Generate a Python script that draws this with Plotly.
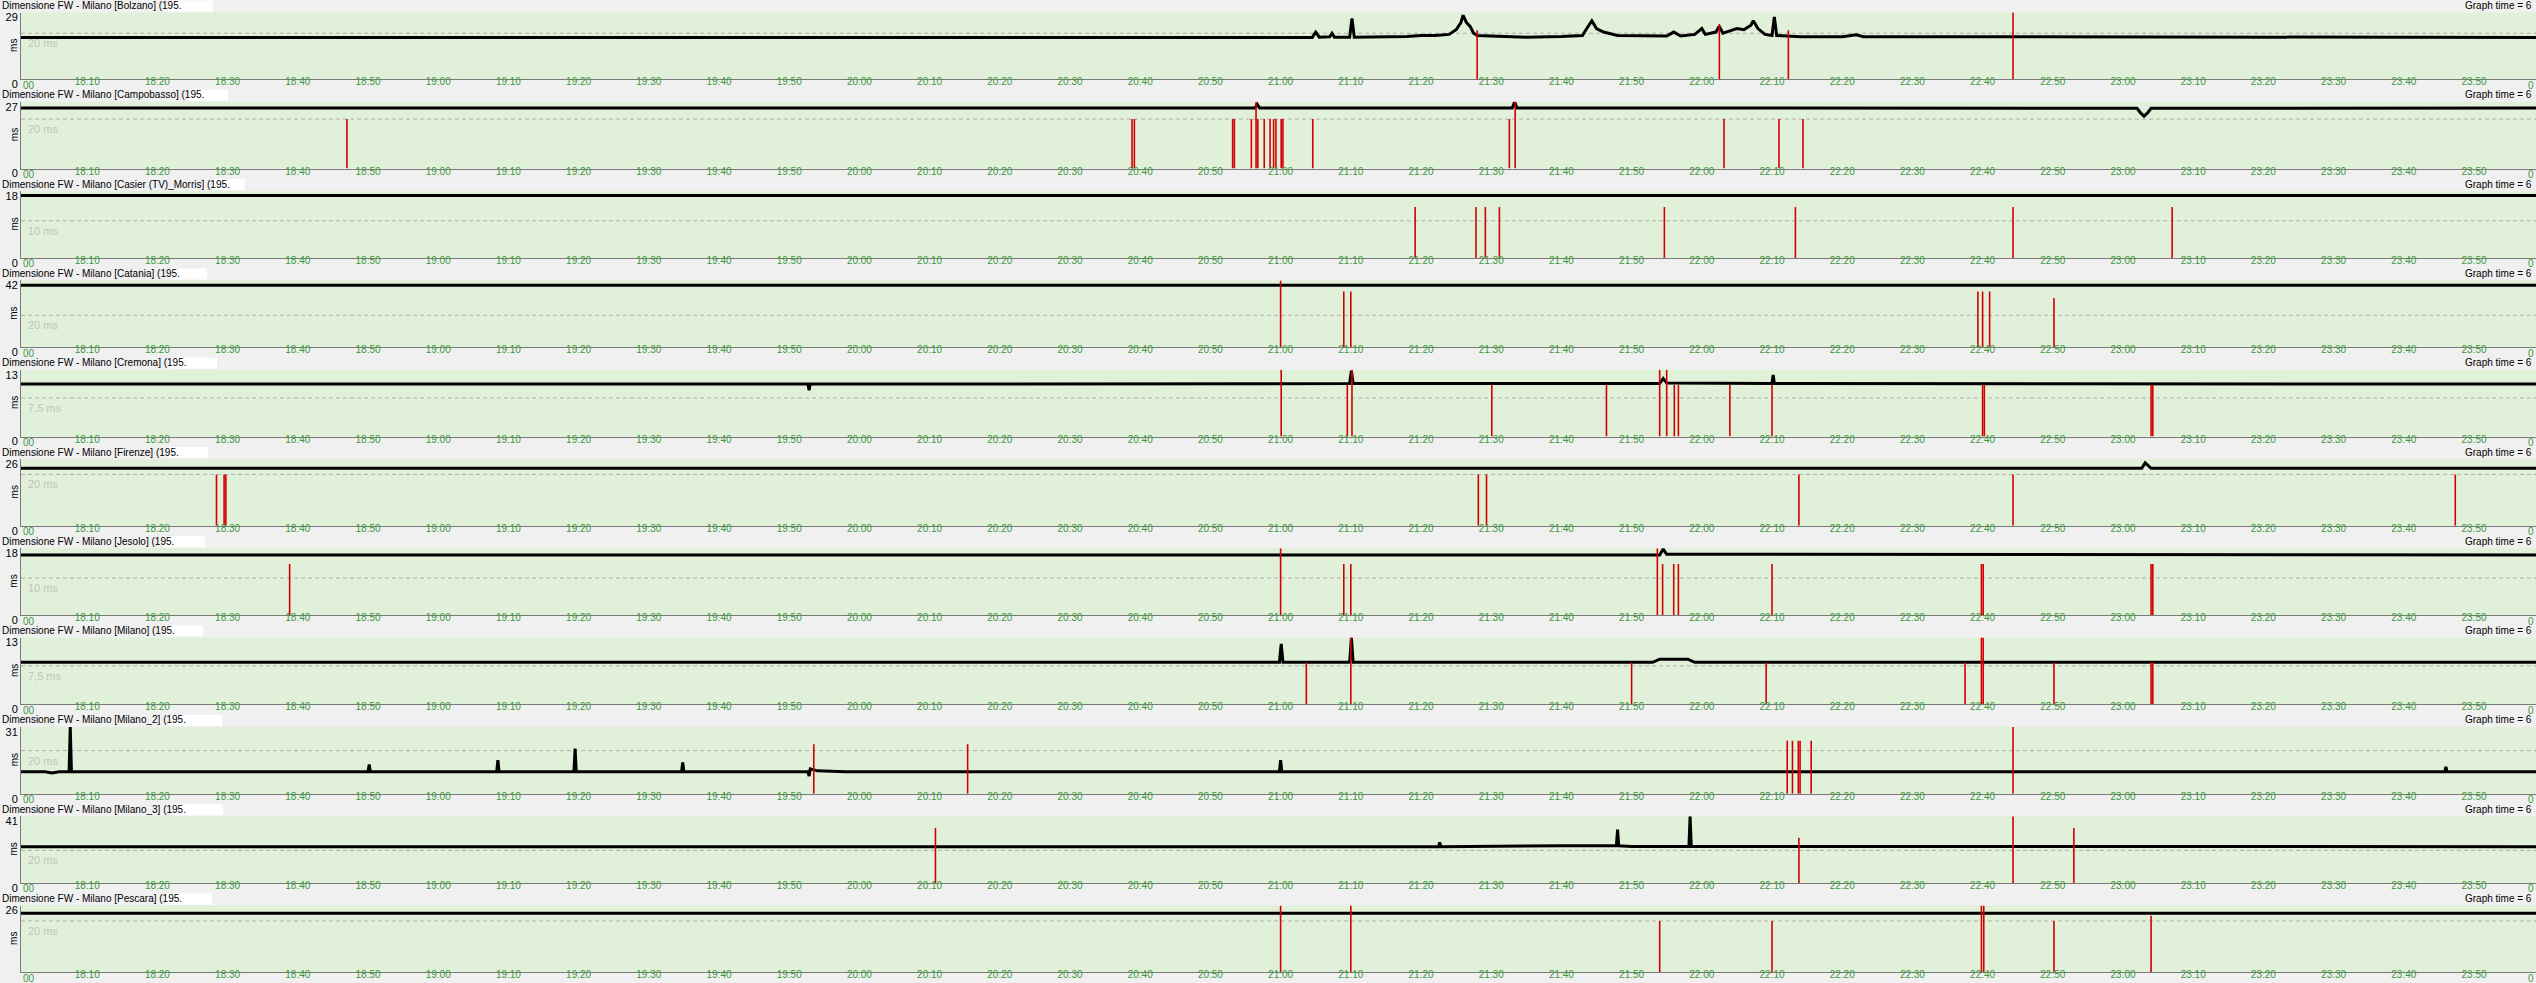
import pandas as pd
import plotly.graph_objects as go

DAY = "2024-01-01 "

PANEL_NAMES = ["Bolzano", "Campobasso", "Casier (TV)_Morris", "Catania", "Cremona",
               "Firenze", "Jesolo", "Milano", "Milano_2", "Milano_3", "Pescara"]
Y_MAX = [29, 27, 18, 42, 13, 26, 18, 13, 31, 41, 26]
REF_MS = [20, 20, 10, 20, 7.5, 20, 10, 7.5, 20, 20, 20]
REF_LABELS = ["20 ms", "20 ms", "10 ms", "20 ms", "7,5 ms", "20 ms", "10 ms", "7,5 ms", "20 ms", "20 ms", "20 ms"]
TICK_TIMES = ["18:10", "18:20", "18:30", "18:40", "18:50", "19:00", "19:10", "19:20", "19:30", "19:40",
              "19:50", "20:00", "20:10", "20:20", "20:30", "20:40", "20:50", "21:00", "21:10", "21:20",
              "21:30", "21:40", "21:50", "22:00", "22:10", "22:20", "22:30", "22:40", "22:50", "23:00",
              "23:10", "23:20", "23:30", "23:40", "23:50"]

# ---------------- latency lines (time, ms) ----------------
BOLZANO_T = ["18:00:30", "21:04:30", "21:05", "21:05:30", "21:07", "21:07:20", "21:07:40", "21:09:50", "21:10:10",
             "21:10:30", "21:18", "21:20", "21:22", "21:24", "21:25", "21:25:40", "21:26", "21:26:30", "21:27",
             "21:27:30", "21:28", "21:35", "21:40", "21:43", "21:43:30", "21:44:20", "21:45", "21:46", "21:48",
             "21:55", "21:56", "21:57", "21:59", "22:00", "22:00:30", "22:02", "22:02:30", "22:03", "22:04",
             "22:05", "22:06", "22:07", "22:07:20", "22:08", "22:09", "22:10", "22:10:20", "22:10:40", "22:14",
             "22:20", "22:22", "22:23", "23:58:50"]
BOLZANO_V = [18.2, 18.2, 20.5, 18.3, 18.5, 20, 18.3, 18.3, 26.4,
             18.3, 18.6, 19, 19, 19.5, 21.5, 24.5, 27.8, 24.5, 23,
             20, 19, 18.3, 18.6, 19, 21.5, 25.4, 22, 20.5, 19,
             18.8, 20.5, 18.8, 19.5, 22, 19.5, 20.5, 23, 20, 21,
             22, 21.5, 23.5, 25.4, 22, 19.5, 19, 27.1, 19, 18.5,
             18.5, 19.3, 18.5, 18.2]

CAMPOBASSO_T = ["18:00:30", "20:56:20", "20:56:40", "20:57", "21:33", "21:33:20", "21:33:40", "23:02",
                "23:02:30", "23:03", "23:03:30", "23:04", "23:58:50"]
CAMPOBASSO_V = [24.5, 24.5, 26, 24.5, 24.5, 27, 24.5, 24.4, 22.5, 21.2, 22.5, 24.4, 24.5]

CASIER_T = ["18:00:30", "23:58:50"]
CASIER_V = [16.8, 16.8]

CATANIA_T = ["18:00:30", "23:58:50"]
CATANIA_V = [38.9, 38.9]

CREMONA_T = ["18:00:30", "19:52:40", "19:52:50", "19:53", "21:09:50", "21:10:05", "21:10:20", "21:54",
             "21:54:30", "21:55", "22:10", "22:10:10", "22:10:20", "23:58:50"]
CREMONA_V = [10.2, 10.2, 9.0, 10.2, 10.3, 12.8, 10.3, 10.3, 11.3, 10.4, 10.3, 12, 10.3, 10.2]

FIRENZE_T = ["18:00:30", "23:02:40", "23:03:10", "23:03:30", "23:04", "23:58:50"]
FIRENZE_V = [22.4, 22.4, 24.5, 23.5, 22.4, 22.4]

JESOLO_T = ["18:00:30", "21:54", "21:54:30", "21:55", "23:58:50"]
JESOLO_V = [16.2, 16.2, 17.8, 16.4, 16.2]

MILANO_T = ["18:00:30", "20:59:50", "21:00:05", "21:00:20", "21:09:50", "21:10:05", "21:10:20", "21:53",
            "21:54", "21:58", "21:59", "23:58:50"]
MILANO_V = [8.2, 8.2, 11.8, 8.2, 8.2, 13, 8.2, 8.2, 8.8, 8.8, 8.2, 8.2]

MILANO2_T = ["18:00:30", "18:04", "18:05", "18:06", "18:07:25", "18:07:35", "18:07:45", "18:50:00", "18:50:10",
             "18:50:20", "19:08:20", "19:08:30", "19:08:40", "19:19:20", "19:19:30", "19:19:40", "19:34:40",
             "19:34:50", "19:35", "19:52:40", "19:52:50", "19:53", "19:54", "19:58", "20:59:50", "21:00:00",
             "21:00:10", "23:45:50", "23:46", "23:46:10", "23:58:50"]
MILANO2_V = [10.2, 10.2, 9.6, 10.2, 10.2, 31, 10.2, 10.2, 13.5,
             10.2, 10.2, 15.6, 10.2, 10.2, 20.9, 10.2, 10.2,
             14.5, 10.2, 10.2, 8.2, 11.5, 10.6, 10.2, 10.2, 15.6,
             10.2, 10.2, 12.5, 10.2, 10.2]

MILANO3_T = ["18:00:30", "21:22:30", "21:22:40", "21:22:50", "21:40", "21:47:50", "21:48", "21:48:10",
             "21:50", "21:58:10", "21:58:20", "21:58:30", "23:58:50"]
MILANO3_V = [22.3, 22.3, 25, 22.3, 22.8, 22.8, 32.8, 22.8, 22.4, 22.4, 41, 22.4, 22.3]

PESCARA_T = ["18:00:30", "23:58:50"]
PESCARA_V = [23, 23]

# ---------------- red loss markers (time, height in ms) ----------------
BOLZANO_RED_T = ["21:28", "22:02:30", "22:12:20", "22:44:20"]
BOLZANO_RED_H = [21.3, 24, 21.3, 29]

CAMPOBASSO_RED_T = ["18:47", "20:38:50", "20:39:10", "20:53:10", "20:53:25", "20:55:50", "20:56:30", "20:56:45",
                    "20:57:40", "20:58:30", "20:59:00", "20:59:20", "21:00:05", "21:00:20", "21:04:35",
                    "21:32:35", "21:33:25", "22:03:10", "22:11", "22:14:25"]
CAMPOBASSO_RED_H = [20, 20, 20, 20, 20, 20, 27, 20, 20, 20, 20, 20, 20, 20, 20, 20, 27, 20, 20, 20]

CASIER_RED_T = ["21:19:10", "21:27:50", "21:29:10", "21:31:10", "21:54:40", "22:13:20", "22:44:20", "23:07"]
CASIER_RED_H = [13.7, 13.7, 13.7, 13.7, 13.7, 13.7, 13.7, 13.7]

CATANIA_RED_T = ["21:00", "21:09", "21:10", "22:39:20", "22:40", "22:41", "22:50:10"]
CATANIA_RED_H = [42, 35, 35, 35, 35, 35, 31]

CREMONA_RED_T = ["21:00:05", "21:09:30", "21:10:10", "21:30:05", "21:46:25", "21:54", "21:55", "21:56:05",
                 "21:56:40", "22:04", "22:10", "22:40", "22:40:15", "23:04", "23:04:15"]
CREMONA_RED_H = [13, 10, 13, 10, 10, 13, 13, 10, 10, 10, 10, 10, 10, 10, 10]

FIRENZE_RED_T = ["18:28:25", "18:29:30", "18:29:45", "21:28:10", "21:29:20", "22:13:50", "22:44:20", "23:47:20"]
FIRENZE_RED_H = [20, 20, 20, 20, 20, 20, 20, 20]

JESOLO_RED_T = ["18:38:50", "21:00", "21:09", "21:10", "21:53:40", "21:54:25", "21:56", "21:56:40", "22:10",
                "22:39:50", "22:40:05", "23:04", "23:04:15"]
JESOLO_RED_H = [13.8, 18, 13.8, 13.8, 18, 13.8, 13.8, 13.8, 13.8, 13.8, 13.8, 13.8, 13.8]

MILANO_RED_T = ["21:03:40", "21:10", "21:50", "22:09:10", "22:37:30", "22:39:50", "22:40:05", "22:50:10",
                "23:04", "23:04:15"]
MILANO_RED_H = [8.2, 13, 8.2, 8.2, 8.2, 13, 13, 8.2, 8.2, 8.2]

MILANO2_RED_T = ["19:53:30", "20:15:25", "22:12:10", "22:12:55", "22:13:45", "22:14:00", "22:15:35", "22:44:20"]
MILANO2_RED_H = [23, 23, 24.6, 24.6, 24.6, 24.6, 24.6, 31]

MILANO3_RED_T = ["20:10:50", "22:13:50", "22:44:20", "22:53"]
MILANO3_RED_H = [33.7, 27.8, 41, 33.7]

PESCARA_RED_T = ["21:00", "21:10", "21:54", "22:10", "22:39:50", "22:40:10", "22:50:10", "23:04"]
PESCARA_RED_H = [26, 26, 20, 20, 26, 26, 20, 22]

LINES = [(BOLZANO_T, BOLZANO_V), (CAMPOBASSO_T, CAMPOBASSO_V), (CASIER_T, CASIER_V), (CATANIA_T, CATANIA_V),
         (CREMONA_T, CREMONA_V), (FIRENZE_T, FIRENZE_V), (JESOLO_T, JESOLO_V), (MILANO_T, MILANO_V),
         (MILANO2_T, MILANO2_V), (MILANO3_T, MILANO3_V), (PESCARA_T, PESCARA_V)]
REDS = [(BOLZANO_RED_T, BOLZANO_RED_H), (CAMPOBASSO_RED_T, CAMPOBASSO_RED_H), (CASIER_RED_T, CASIER_RED_H),
        (CATANIA_RED_T, CATANIA_RED_H), (CREMONA_RED_T, CREMONA_RED_H), (FIRENZE_RED_T, FIRENZE_RED_H),
        (JESOLO_RED_T, JESOLO_RED_H), (MILANO_RED_T, MILANO_RED_H), (MILANO2_RED_T, MILANO2_RED_H),
        (MILANO3_RED_T, MILANO3_RED_H), (PESCARA_RED_T, PESCARA_RED_H)]

# redaction boxes (layout only, px)
REDACT_X = [(168, 213), (188, 228), (213, 245), (170, 207), (170, 217), (167, 208), (163, 205),
            (167, 203), (170, 222), (173, 223), (165, 212)]


def ts(s):
    if s.count(":") == 1:
        s = s + ":00"
    return pd.Timestamp(DAY + s)


W, H = 2536, 983
PITCH = 89.3
FONT = "Liberation Sans, Arial, sans-serif"
GREEN_TXT = "#3a9a3a"
X0_PX = 21

fig = go.Figure()
shapes, annots = [], []
xrange_ = [ts("18:00:34"), ts("23:58:50")]

for k, name in enumerate(PANEL_NAMES):
    top = 12.5 + PITCH * k
    bot = 79.3 + PITCH * k
    title_y = 5.5 + PITCH * k
    xa = "x" if k == 0 else f"x{k+1}"
    ya = "y" if k == 0 else f"y{k+1}"
    xkey = "xaxis" if k == 0 else f"xaxis{k+1}"
    ykey = "yaxis" if k == 0 else f"yaxis{k+1}"

    lt, lv = LINES[k]
    fig.add_trace(go.Scatter(x=[ts(t) for t in lt], y=lv, mode="lines",
                             line=dict(color="black", width=3), xaxis=xa, yaxis=ya,
                             showlegend=False, hoverinfo="skip"))
    rt, rh = REDS[k]
    rx, ry = [], []
    for t, h in zip(rt, rh):
        rx += [ts(t), ts(t), None]
        ry += [0, h, None]
    fig.add_trace(go.Scatter(x=rx, y=ry, mode="lines", line=dict(color="#d40000", width=1.6),
                             xaxis=xa, yaxis=ya, showlegend=False, hoverinfo="skip"))

    fig.update_layout({
        xkey: dict(domain=[X0_PX / W, 1], range=xrange_, anchor=ya, showgrid=False, zeroline=False,
                   automargin=False, showline=True, linecolor="#7a7a7a", linewidth=1, ticks="",
                   tickvals=[ts(t) for t in TICK_TIMES], ticktext=TICK_TIMES, tickangle=0,
                   ticklabelstandoff=-7,
                   tickfont=dict(family=FONT, size=10, color=GREEN_TXT)),
        ykey: dict(domain=[1 - bot / H, 1 - top / H], range=[0, Y_MAX[k]], anchor=xa, showgrid=False,
                   zeroline=False, automargin=False, showline=True, linecolor="#7a7a7a", linewidth=1,
                   ticks="", tickvals=[0, Y_MAX[k]], ticktext=["0", str(Y_MAX[k])],
                   ticklabelshift=5,
                   tickfont=dict(family=FONT, size=11, color="black")),
    })

    shapes.append(dict(type="line", xref=f"{xa} domain", yref=ya, x0=0, x1=1, y0=REF_MS[k], y1=REF_MS[k],
                       line=dict(color="#b0b0b0", width=1, dash="4px,3px"), layer="below"))
    shapes.append(dict(type="rect", xref="paper", yref="paper", x0=REDACT_X[k][0] / W, x1=REDACT_X[k][1] / W,
                       y0=1 - (title_y + 6) / H, y1=1 - (title_y - 5) / H,
                       fillcolor="white", line=dict(width=0), layer="above"))

    annots.append(dict(text=f"Dimensione FW - Milano [{name}] (195.", xref="paper", yref="paper",
                       x=0, y=1 - title_y / H, xanchor="left", yanchor="middle", showarrow=False,
                       font=dict(family=FONT, size=10, color="black")))
    annots.append(dict(text="Graph time = 6", xref="paper", yref="paper", x=2534 / W, y=1 - title_y / H,
                       xanchor="right", yanchor="middle", showarrow=False,
                       font=dict(family=FONT, size=10, color="black")))
    annots.append(dict(text="ms", xref="paper", yref="paper", x=14 / W, y=1 - (top + bot) / 2 / H,
                       xanchor="center", yanchor="middle", textangle=-90, showarrow=False,
                       font=dict(family=FONT, size=10, color="black")))
    annots.append(dict(text=REF_LABELS[k], xref=f"{xa} domain", yref=ya, x=0.002, y=REF_MS[k],
                       xanchor="left", yanchor="top", yshift=-2, showarrow=False,
                       font=dict(family=FONT, size=11, color="#c4c4c4")))
    annots.append(dict(text="00", xref="paper", yref="paper", x=X0_PX / W, y=1 - (bot + 6) / H,
                       xanchor="left", yanchor="middle", showarrow=False,
                       font=dict(family=FONT, size=10, color=GREEN_TXT)))
    annots.append(dict(text="0", xref="paper", yref="paper", x=1, y=1 - (bot + 6) / H,
                       xanchor="right", yanchor="middle", showarrow=False,
                       font=dict(family=FONT, size=10, color=GREEN_TXT)))

fig.update_layout(width=W, height=H, margin=dict(l=0, r=0, t=0, b=0, autoexpand=False),
                  paper_bgcolor="#f0f0f0", plot_bgcolor="#e1f0d8",
                  shapes=shapes, annotations=annots, showlegend=False)

fig.write_html("out.html", config={"displayModeBar": False, "staticPlot": True},
               post_script="document.body.style.margin='0';document.body.style.overflow='hidden';")
